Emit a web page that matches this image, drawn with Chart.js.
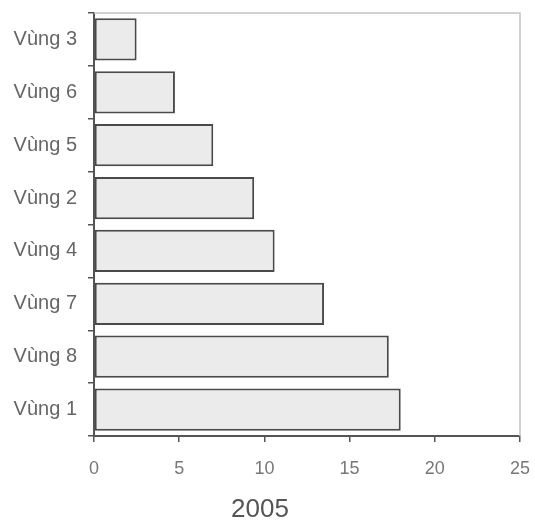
<!DOCTYPE html>
<html>
<head>
<meta charset="utf-8">
<script src="https://cdn.jsdelivr.net/npm/chart.js@4"></script>
<style>
  html, body { margin: 0; padding: 0; background: #fff; }
  canvas { display: block; }
</style>
</head>
<body>
<canvas id="chart" width="535" height="523"></canvas>
<script>
// Regions, top to bottom
const regions = ['Vùng 3', 'Vùng 6', 'Vùng 5', 'Vùng 2', 'Vùng 4', 'Vùng 7', 'Vùng 8', 'Vùng 1']
// Values for 2005
const values2005 = [2.5, 4.75, 7.0, 9.4, 10.6, 13.5, 17.3, 18.0]
const xTicks = [0, 5, 10, 15, 20, 25]
const yearLabel = '2005'

// light frame on top and right of plot area
const frame = {
  id: 'frame',
  afterDraw(chart) {
    const { ctx, chartArea: a } = chart
    ctx.save()
    ctx.strokeStyle = '#c4c4c4'
    ctx.lineWidth = 1.5
    ctx.beginPath()
    ctx.moveTo(a.left, a.top)
    ctx.lineTo(a.right, a.top)
    ctx.lineTo(a.right, a.bottom)
    ctx.stroke()
    ctx.restore()
  }
}

new Chart(document.getElementById('chart'), {
  type: 'bar',
  data: {
    labels: regions,
    datasets: [{
      data: values2005,
      backgroundColor: '#ebebeb',
      borderColor: '#4a4a4a',
      borderWidth: 2,
      borderSkipped: false,
      barPercentage: 0.8,
      categoryPercentage: 1
    }]
  },
  options: {
    indexAxis: 'y',
    responsive: false,
    animation: false,
    layout: { padding: { top: 13, right: 15, left: 0, bottom: 0 } },
    plugins: {
      legend: { display: false },
      tooltip: { enabled: false },
      title: {
        display: true,
        text: yearLabel,
        position: 'bottom',
        color: '#555',
        font: { family: 'Liberation Sans', size: 26, weight: 'normal', lineHeight: 1 },
        padding: { top: 0, bottom: 0.5 }
      }
    },
    scales: {
      x: {
        min: 0,
        max: 25,
        afterBuildTicks: s => { s.ticks = xTicks.map(v => ({ value: v })) },
        afterFit: s => { s.height = 60.5; s.paddingLeft = 0; s.paddingRight = 0 },
        grid: { drawOnChartArea: false, tickLength: 6, color: '#555', lineWidth: 1.5 },
        border: { color: '#555', width: 2 },
        ticks: {
          color: '#777',
          padding: 16,
          font: { family: 'Liberation Sans', size: 18 }
        }
      },
      y: {
        afterFit: s => { s.width = 94; s.paddingTop = 0; s.paddingBottom = 0 },
        grid: { drawOnChartArea: false, tickLength: 6, color: '#555', lineWidth: 1.5, offset: true },
        border: { color: '#555', width: 2 },
        ticks: {
          color: '#666',
          padding: 11,
          font: { family: 'Liberation Sans', size: 20 }
        }
      }
    }
  },
  plugins: [frame]
})
</script>
</body>
</html>
